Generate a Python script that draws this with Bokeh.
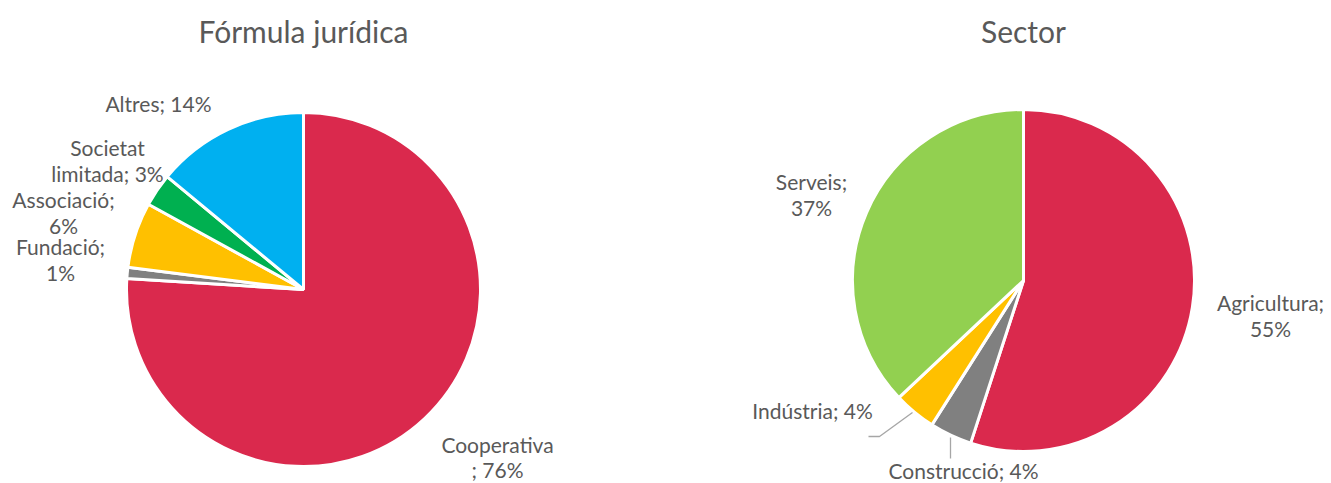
import math
from bokeh.plotting import figure
from bokeh.models import Range1d, ColumnDataSource
from bokeh.core.properties import value
from bokeh.embed import file_html
from bokeh.resources import INLINE

# ---- data ----
legal_categories = ["Cooperativa", "Fundació", "Associació", "Societat limitada", "Altres"]
legal_values = [76, 1, 6, 3, 14]
legal_colors = ["#DA294D", "#808080", "#FFC000", "#00B050", "#00B0F0"]

sector_categories = ["Agricultura", "Construcció", "Indústria", "Serveis"]
sector_values = [55, 4, 4, 37]
sector_colors = ["#DA294D", "#808080", "#FFC000", "#92D050"]

W, H = 1331, 483
FONT = "Lato"
TXT = "#595959"

p = figure(width=W, height=H, output_backend="svg", toolbar_location=None,
           x_range=Range1d(0, W), y_range=Range1d(0, H),
           min_border=0, outline_line_color=None)
p.axis.visible = False
p.grid.visible = False


def Y(sy):
    return 483 - sy


def pie(cx, cy, r, vals, colors):
    total = float(sum(vals))
    starts, ends = [], []
    c = 0.0
    for v in vals:
        starts.append(math.pi / 2 - 2 * math.pi * c / total)
        c += v
        ends.append(math.pi / 2 - 2 * math.pi * c / total)
    src = ColumnDataSource(dict(x=[cx] * len(vals), y=[Y(cy)] * len(vals),
                                s=starts, e=ends, color=colors))
    p.wedge(x="x", y="y", radius=r, start_angle="s", end_angle="e",
            direction="clock", fill_color="color", line_color="white",
            line_width=3, source=src)


pie(303, 289, 177, legal_values, legal_colors)
pie(1023, 280, 171, sector_values, sector_colors)


def label(lines, x, y, size="21px", lh=26):
    n = len(lines)
    for i, t in enumerate(lines):
        yy = y + (i - (n - 1) / 2) * lh
        p.text(x=[x], y=[Y(yy)], text=[t], text_align="center",
               text_baseline="middle", text_color=TXT,
               text_font=value(FONT), text_font_size=size)


# titles
label(["Fórmula jurídica"], 303, 30, size="30px")
label(["Sector"], 1023, 30, size="30px")

# left pie labels
label([f"{legal_categories[4]}; {legal_values[4]}%"], 158, 103)
label(["Societat", f"limitada; {legal_values[3]}%"], 107, 160)
label([f"{legal_categories[2]};", f"{legal_values[2]}%"], 63, 212)
label([f"{legal_categories[1]};", f"{legal_values[1]}%"], 60, 259)
label([f"{legal_categories[0]}", f"; {legal_values[0]}%"], 497, 456, lh=25)

# right pie labels
label([f"{sector_categories[3]};", f"{sector_values[3]}%"], 811, 194)
label([f"{sector_categories[0]};", f"{sector_values[0]}%"], 1270, 315)
label([f"{sector_categories[2]}; {sector_values[2]}%"], 812, 410)
label([f"{sector_categories[1]}; {sector_values[1]}%"], 963, 470)

# leader lines
p.line(x=[912, 879, 868], y=[Y(412), Y(436), Y(436)], line_color="#A6A6A6", line_width=1.3)
p.line(x=[950, 950], y=[Y(437), Y(458)], line_color="#A6A6A6", line_width=1.3)

open("out.html", "w").write(file_html(p, INLINE))
